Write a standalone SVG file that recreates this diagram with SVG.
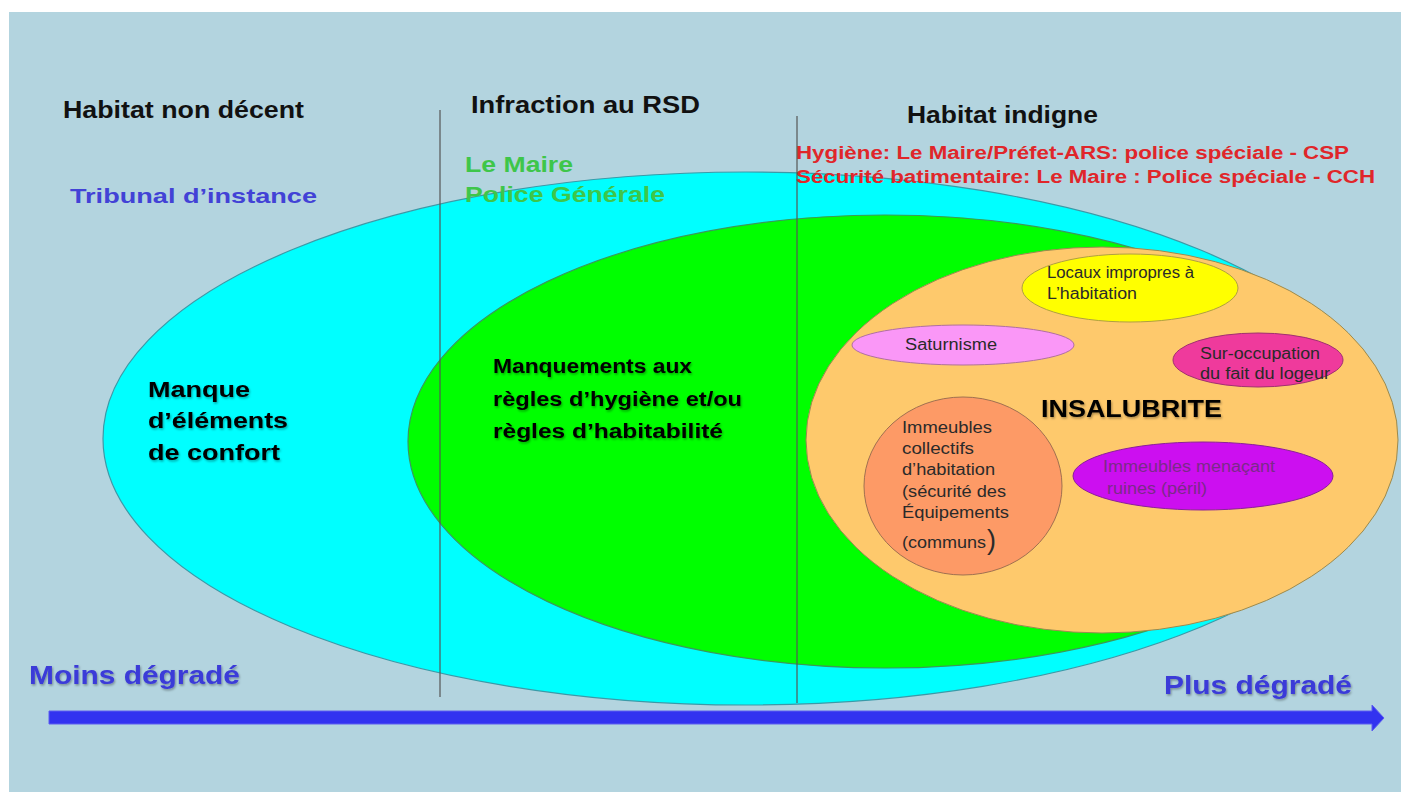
<svg xmlns="http://www.w3.org/2000/svg" width="1401" height="792" viewBox="0 0 1401 792">
<defs>
<style>
text{font-family:"Liberation Sans",Arial,sans-serif;}
.t{font-size:23px;fill:#111;font-weight:bold;}
.red{font-size:18px;fill:#e0262a;font-weight:bold;}
.grn{font-size:22px;fill:#3ec64a;font-weight:bold;}
.blu{font-size:21px;fill:#4242d6;font-weight:bold;}
.blk{font-size:22px;fill:#000;font-weight:bold;}
.sm{font-size:16px;fill:#2a2a2a;}
.deg{font-size:25px;fill:#3a3ad8;font-weight:bold;}
.shadow{filter:url(#sh);}
.vline{stroke:#555;stroke-width:1.2;}
</style>
<filter id="sh" x="-5%" y="-20%" width="115%" height="150%">
<feDropShadow dx="1" dy="1.5" stdDeviation="0.8" flood-color="#000" flood-opacity="0.35"/>
</filter>
</defs>
<rect x="0" y="0" width="1401" height="792" fill="#ffffff"/>
<rect x="9" y="12" width="1392" height="780" fill="#b3d4df"/>

<g id="ellipse-cyan">
<ellipse cx="746" cy="438.5" rx="643" ry="266.5" fill="#00ffff" stroke="#3a9aa8" stroke-width="1.2"/>
</g>
<g id="ellipse-green">
<ellipse cx="885" cy="441.5" rx="477" ry="226.5" fill="#00ff00" stroke="#3a9a5a" stroke-width="1.2"/>
</g>
<g id="ellipse-orange">
<ellipse cx="1102" cy="440" rx="296" ry="193" fill="#fec96c" stroke="#9a8a50" stroke-width="1"/>
</g>

<g id="connectors">
<line class="vline" x1="440" y1="110" x2="440" y2="697"/>
<line class="vline" x1="797" y1="116" x2="797" y2="703"/>
<path d="M49,711 L1372,711 L1372,705 L1384,718 L1372,731 L1372,724 L49,724 Z" fill="#3232f0" stroke="#5c5cf0" stroke-width="1"/>
</g>

<g id="title-non-decent"><text class="t" x="63" y="118" textLength="241" lengthAdjust="spacingAndGlyphs">Habitat non décent</text></g>
<g id="title-rsd"><text class="t" x="471" y="113" textLength="229" lengthAdjust="spacingAndGlyphs">Infraction au RSD</text></g>
<g id="title-indigne"><text class="t" x="907" y="123" textLength="191" lengthAdjust="spacingAndGlyphs">Habitat indigne</text></g>

<g id="police-speciale">
<text class="red" x="796" y="159" textLength="553" lengthAdjust="spacingAndGlyphs">Hygiène: Le Maire/Préfet-ARS: police spéciale - CSP</text>
<text class="red" x="796" y="183" textLength="579" lengthAdjust="spacingAndGlyphs">Sécurité batimentaire: Le Maire : Police spéciale - CCH</text>
</g>
<g id="police-generale">
<text class="grn" x="465" y="172" textLength="108" lengthAdjust="spacingAndGlyphs">Le Maire</text>
<text class="grn" x="465" y="202" textLength="200" lengthAdjust="spacingAndGlyphs">Police Générale</text>
</g>
<g id="tribunal"><text class="blu" x="70" y="203" textLength="247" lengthAdjust="spacingAndGlyphs">Tribunal d’instance</text></g>

<g id="manque-confort" class="shadow">
<text class="blk" x="148" y="397" textLength="102" lengthAdjust="spacingAndGlyphs">Manque</text>
<text class="blk" x="148" y="428" textLength="140" lengthAdjust="spacingAndGlyphs">d’éléments</text>
<text class="blk" x="148" y="460" textLength="132" lengthAdjust="spacingAndGlyphs">de confort</text>
</g>

<g id="manquements" class="shadow">
<text class="blk" style="font-size:20px" x="493" y="373" textLength="199" lengthAdjust="spacingAndGlyphs">Manquements aux</text>
<text class="blk" style="font-size:20px" x="493" y="406" textLength="249" lengthAdjust="spacingAndGlyphs">règles d’hygiène et/ou</text>
<text class="blk" style="font-size:20px" x="493" y="438" textLength="230" lengthAdjust="spacingAndGlyphs">règles d’habitabilité</text>
</g>

<g id="locaux">
<ellipse cx="1130" cy="288" rx="108" ry="34" fill="#ffff00" stroke="#b0a040" stroke-width="1"/>
<text class="sm" x="1047" y="278" textLength="147" lengthAdjust="spacingAndGlyphs">Locaux impropres à</text>
<text class="sm" x="1047" y="299" textLength="90" lengthAdjust="spacingAndGlyphs">L’habitation</text>
</g>
<g id="saturnisme">
<ellipse cx="963" cy="345" rx="111" ry="20" fill="#fa97f7" stroke="#b070a0" stroke-width="1"/>
<text class="sm" x="905" y="350" textLength="92" lengthAdjust="spacingAndGlyphs">Saturnisme</text>
</g>
<g id="sur-occupation">
<ellipse cx="1258" cy="360" rx="85" ry="27" fill="#ef3a9c" stroke="#a03070" stroke-width="1"/>
<text class="sm" x="1200" y="359" textLength="120" lengthAdjust="spacingAndGlyphs">Sur-occupation</text>
<text class="sm" x="1200" y="379" textLength="130" lengthAdjust="spacingAndGlyphs">du fait du logeur</text>
</g>
<g id="insalubrite" class="shadow">
<text class="blk" style="font-size:23px" x="1041" y="417" textLength="181" lengthAdjust="spacingAndGlyphs">INSALUBRITE</text>
</g>
<g id="immeubles-collectifs">
<ellipse cx="963" cy="486" rx="99" ry="89" fill="#fd9a66" stroke="#a07050" stroke-width="1"/>
<text class="sm" x="902" y="433" textLength="90" lengthAdjust="spacingAndGlyphs">Immeubles</text>
<text class="sm" x="902" y="454" textLength="72" lengthAdjust="spacingAndGlyphs">collectifs</text>
<text class="sm" x="902" y="475" textLength="93" lengthAdjust="spacingAndGlyphs">d’habitation</text>
<text class="sm" x="902" y="497" textLength="104" lengthAdjust="spacingAndGlyphs">(sécurité des</text>
<text class="sm" x="902" y="518" textLength="107" lengthAdjust="spacingAndGlyphs">Équipements</text>
<text class="sm" x="902" y="548" textLength="84" lengthAdjust="spacingAndGlyphs">(communs</text>
<text class="sm" style="font-size:27px" x="987" y="549">)</text>
</g>
<g id="peril">
<ellipse cx="1203" cy="476" rx="130" ry="34" fill="#cc0ff0" stroke="#8a209a" stroke-width="1"/>
<text class="sm" style="fill:#7a2a88" x="1103" y="472" textLength="172" lengthAdjust="spacingAndGlyphs">Immeubles menaçant</text>
<text class="sm" style="fill:#7a2a88" x="1107" y="494" textLength="100" lengthAdjust="spacingAndGlyphs">ruines (péril)</text>
</g>

<g id="axis-labels" class="shadow">
<text class="deg" x="29" y="684" textLength="211" lengthAdjust="spacingAndGlyphs">Moins dégradé</text>
<text class="deg" x="1164" y="694" textLength="188" lengthAdjust="spacingAndGlyphs">Plus dégradé</text>
</g>
</svg>
